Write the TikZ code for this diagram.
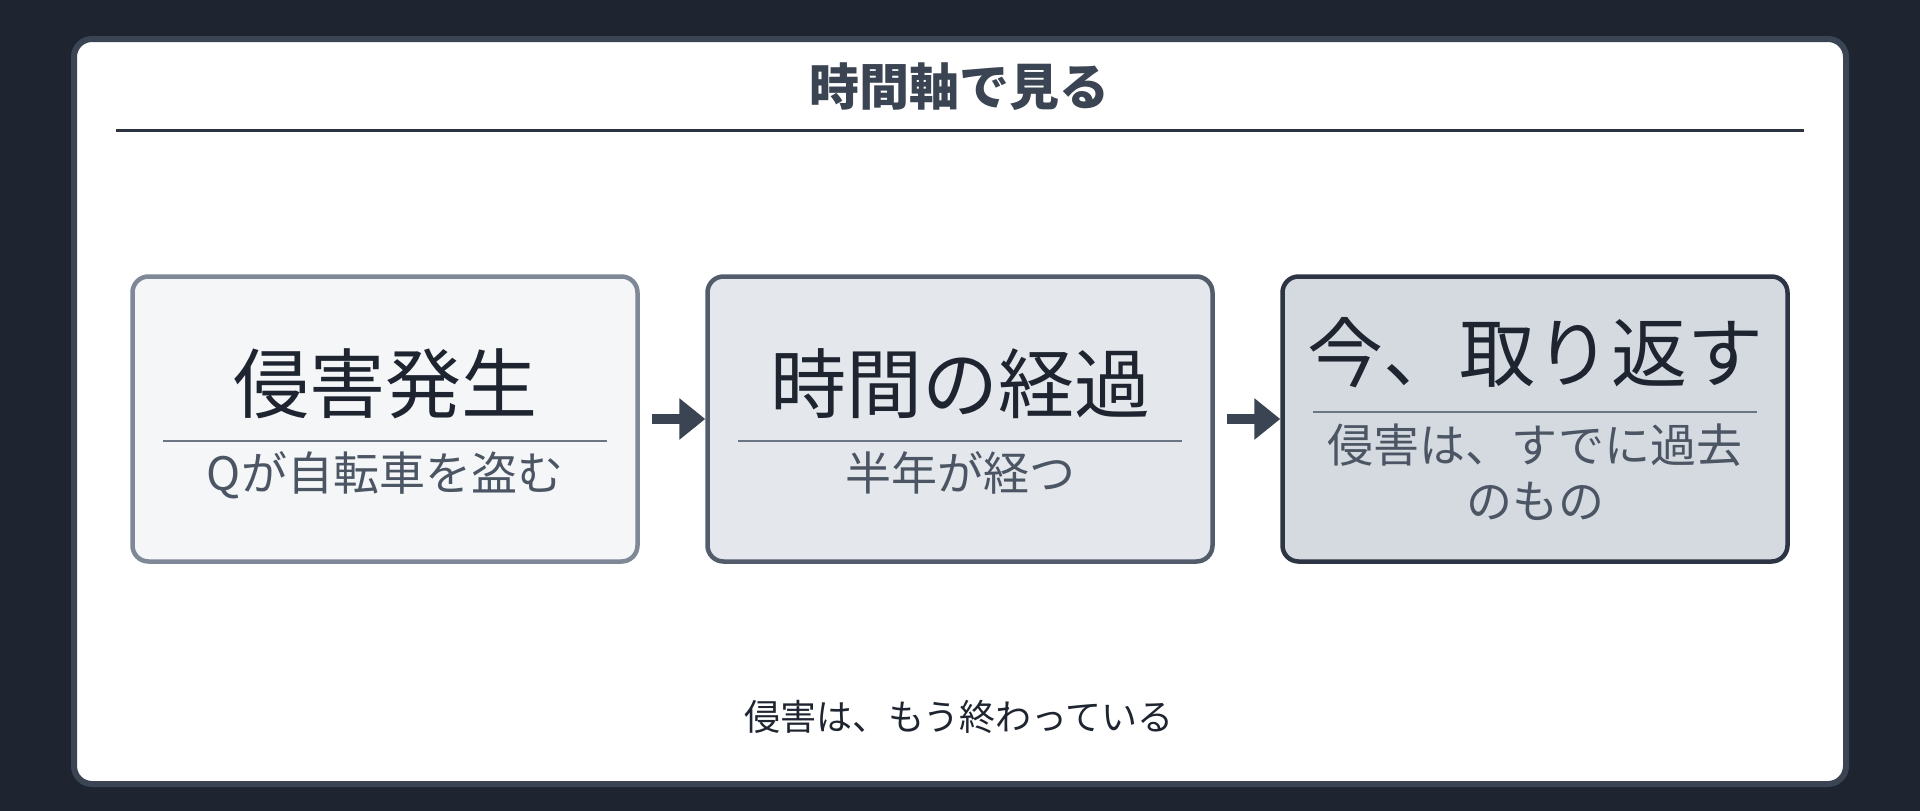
\documentclass[tikz,border=0pt]{standalone}
\usepackage{fontspec}
\newfontfamily\cjk{Noto Sans CJK JP}
\usetikzlibrary{arrows.meta}
\definecolor{bgc}{HTML}{1E2530}
\definecolor{cardborder}{HTML}{3B4452}
\definecolor{headline}{HTML}{2B3240}
\definecolor{titlec}{HTML}{3B4452}
\definecolor{fillA}{HTML}{F4F6F8}
\definecolor{drawA}{HTML}{7F8896}
\definecolor{fillB}{HTML}{E4E7EB}
\definecolor{drawB}{HTML}{525C6B}
\definecolor{fillC}{HTML}{D5DAE1}
\definecolor{drawC}{HTML}{2D3544}
\definecolor{maintext}{HTML}{1E2530}
\definecolor{subtext}{HTML}{4B5563}
\definecolor{sepc}{HTML}{6B7583}
\definecolor{arrowc}{HTML}{3B4452}
\tikzset{
  stagebox/.style={rectangle, rounded corners=16pt, line width=4.5pt, minimum width=505pt, minimum height=285pt, inner sep=0pt},
  bigtxt/.style={anchor=base, inner sep=0pt, text=maintext, font=\cjk\fontsize{76}{76}\selectfont},
  smalltxt/.style={anchor=base, inner sep=0pt, text=subtext, font=\cjk\fontsize{46}{56}\selectfont},
  sepline/.style={draw=sepc, line width=2.5pt},
  flowarrow/.style={draw=arrowc, line width=10pt, shorten <=12pt, -{Triangle[length=26pt,width=40pt]}}
}
\begin{document}
\begin{tikzpicture}[x=1pt,y=-1pt]
\useasboundingbox (0,0) rectangle (1920,811);
\fill[bgc] (0,0) rectangle (1920,811);
% card
\draw[fill=white, draw=cardborder, line width=6pt, rounded corners=18pt] (74,39) rectangle (1846,784);
% header
\node[anchor=base, inner sep=0pt, text=titlec, font=\cjk\bfseries\fontsize{50}{50}\selectfont] (title) at (959,105) {時間軸で見る};
\coordinate (hl) at (116,130);
\coordinate (hr) at (1804,130);
\draw[headline, line width=3pt] (hl) -- (hr);
% boxes
\node[stagebox, fill=fillA, draw=drawA] (b1) at (385,419) {};
\node[stagebox, fill=fillB, draw=drawB] (b2) at (960,419) {};
\node[stagebox, fill=fillC, draw=drawC] (b3) at (1535,419) {};
% box 1 content
\node[bigtxt] (t1) at (385,412) {侵害発生};
\draw[sepline] ([xshift=33pt]b1.west |- 0,441) -- ([xshift=-33pt]b1.east |- 0,441);
\node[smalltxt] (s1) at (385,490) {Qが自転車を盗む};
% box 2 content
\node[bigtxt] (t2) at (960,412) {時間の経過};
\draw[sepline] ([xshift=33pt]b2.west |- 0,441) -- ([xshift=-33pt]b2.east |- 0,441);
\node[smalltxt] (s2) at (960,490) {半年が経つ};
% box 3 content
\node[bigtxt] (t3) at (1535,381) {今、取り返す};
\draw[sepline] ([xshift=33pt]b3.west |- 0,412) -- ([xshift=-33pt]b3.east |- 0,412);
\node[smalltxt] (s3a) at (1535,462) {侵害は、すでに過去};
\node[smalltxt] (s3b) at (1535,518) {のもの};
% arrows
\draw[flowarrow] (b1.east) -- (b2.west);
\draw[flowarrow] (b2.east) -- (b3.west);
% footer
\node[anchor=base, inner sep=0pt, text=maintext, font=\cjk\fontsize{36}{36}\selectfont] (foot) at (959,730) {侵害は、もう終わっている};
\end{tikzpicture}
\end{document}
